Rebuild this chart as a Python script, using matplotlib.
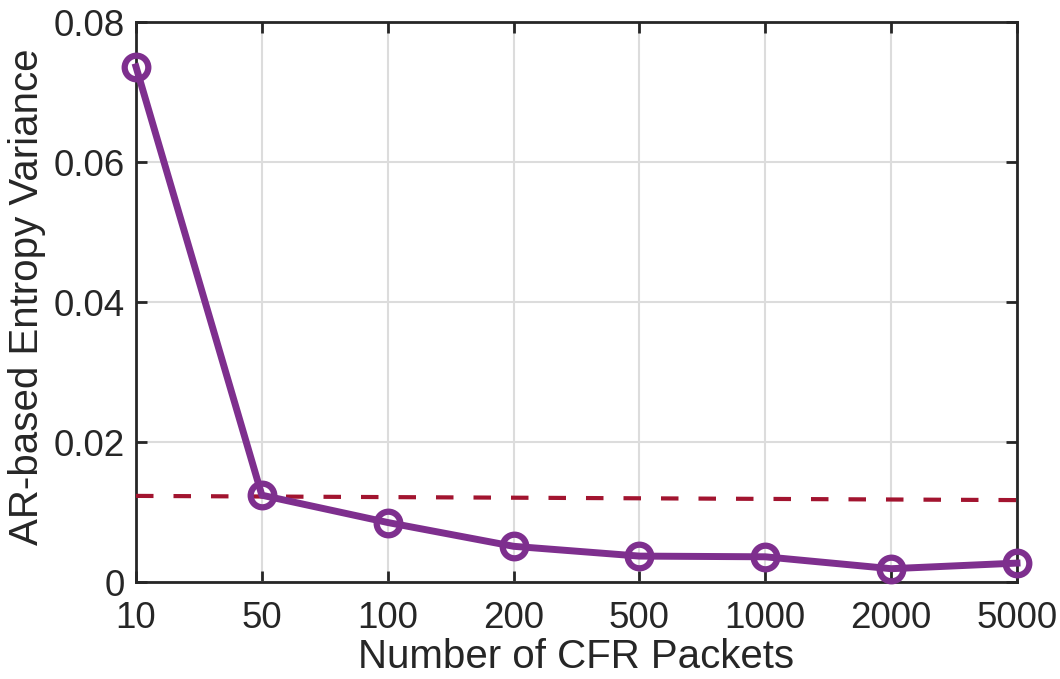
import matplotlib
matplotlib.use("Agg")
import matplotlib.pyplot as plt

plt.rcParams['font.family'] = ['Liberation Sans', 'DejaVu Sans']

x_labels = ['10', '50', '100', '200', '500', '1000', '2000', '5000']
variance = [0.0736, 0.0124, 0.0085, 0.0051, 0.0037, 0.0036, 0.0019, 0.0027]
threshold = [0.0123, 0.0117]
y_ticks = [0, 0.02, 0.04, 0.06, 0.08]
y_tick_labels = ['0', '0.02', '0.04', '0.06', '0.08']

fig = plt.figure(figsize=(10.6, 6.79), dpi=100)
ax = fig.add_axes([136/1060, 1 - 582/679, (1017-136)/1060, (582-22)/679])

xs = list(range(1, len(x_labels) + 1))
ax.plot([xs[0], xs[-1]], threshold, linestyle=(0, (4.2, 4.8)), color='#A2142F', lw=3.0, zorder=3)
ax.plot(xs, variance, color='#7E2F8E', lw=5.0, marker='o', markersize=17,
        markerfacecolor='none', markeredgewidth=4.5, zorder=4, clip_on=False)

ax.set_xlim(1, 8)
ax.set_ylim(0, 0.08)
ax.set_xticks(xs)
ax.set_xticklabels(x_labels)
ax.set_yticks(y_ticks)
ax.set_yticklabels(y_tick_labels)
ax.grid(True, color='#dcdcdc', lw=1.5)
ax.set_axisbelow(True)
for s in ax.spines.values():
    s.set_color('#262626')
    s.set_linewidth(2.0)
ax.tick_params(direction='in', length=8, width=2, colors='#262626', labelsize=26.5,
               top=True, right=True)
ax.tick_params(axis='x', pad=14)
ax.tick_params(axis='y', pad=8)
ax.set_xlabel('Number of CFR Packets', fontsize=29, color='#262626', labelpad=1)
ax.set_ylabel('AR-based Entropy Variance', fontsize=29, color='#262626')
ax.yaxis.set_label_coords(-0.102, 0.51)

fig.savefig('out.png', dpi=100)
